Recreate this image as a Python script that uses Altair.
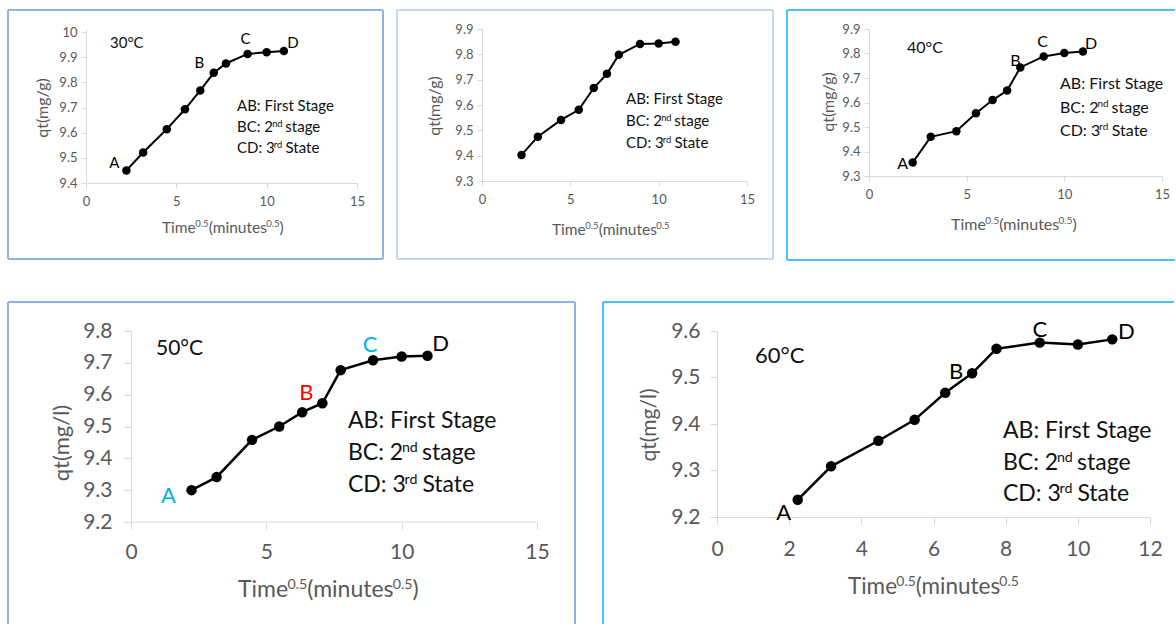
import altair as alt
import pandas as pd

# ---------------- data ----------------
sqrt_time = [2.236, 3.162, 4.472, 5.477, 6.325, 7.071, 7.746, 8.944, 10.0, 10.954]
qt_30c = [9.450, 9.521, 9.614, 9.693, 9.768, 9.838, 9.875, 9.913, 9.920, 9.925]
qt_panel2 = [9.403, 9.475, 9.541, 9.581, 9.667, 9.723, 9.798, 9.841, 9.843, 9.850]
qt_40c = [9.355, 9.460, 9.483, 9.556, 9.610, 9.649, 9.743, 9.788, 9.802, 9.808]
qt_50c = [9.300, 9.341, 9.458, 9.500, 9.545, 9.573, 9.677, 9.708, 9.720, 9.722]
qt_60c = [9.237, 9.309, 9.364, 9.409, 9.467, 9.509, 9.562, 9.575, 9.571, 9.582]

x_ticks_15 = [0, 5, 10, 15]
x_ticks_12 = [0, 2, 4, 6, 8, 10, 12]
y_ticks_30c = [9.4, 9.5, 9.6, 9.7, 9.8, 9.9, 10.0]
y_ticks_panel2 = [9.3, 9.4, 9.5, 9.6, 9.7, 9.8, 9.9]
y_ticks_40c = [9.3, 9.4, 9.5, 9.6, 9.7, 9.8, 9.9]
y_ticks_50c = [9.2, 9.3, 9.4, 9.5, 9.6, 9.7, 9.8]
y_ticks_60c = [9.2, 9.3, 9.4, 9.5, 9.6]

temp_labels = ["30°C", "", "40°C", "50°C", "60°C"]
stage_notes = [
    [("AB: First Stage", False)],
    [("BC: 2", False), ("nd", True), (" stage", False)],
    [("CD: 3", False), ("rd", True), (" State", False)],
]
x_title_closed = [("Time", False), ("0.5", True), ("(minutes", False), ("0.5", True), (")", False)]
x_title_open = [("Time", False), ("0.5", True), ("(minutes", False), ("0.5", True)]
y_title_g = "qt(mg/g)"
y_title_l = "qt(mg/l)"

# ---------------- styling ----------------
FONT = "Lato"
AXIS_COLOR = "#D9D9D9"
LABEL_COLOR = "#595959"
TEXT_COLOR = "#111111"

LATO_W = {' ': 0.193, '(': 0.30, ')': 0.30, '.': 0.23, ':': 0.24, '/': 0.37, '°': 0.40,
          'A': 0.68, 'B': 0.645, 'C': 0.685, 'D': 0.76, 'F': 0.557, 'S': 0.54, 'T': 0.583,
          'a': 0.50, 'd': 0.56, 'e': 0.51, 'g': 0.51, 'i': 0.235, 'm': 0.82, 'n': 0.545,
          'r': 0.38, 's': 0.41, 't': 0.35, 'u': 0.545, 'q': 0.56, 'l': 0.235}
for _d in "0123456789":
    LATO_W[_d] = 0.58


def text_width(s, size):
    return sum(LATO_W.get(c, 0.55) for c in s) * size


one = pd.DataFrame({"k": [0]})


def text_layer(txt, x, y, size, color, align="left", baseline="alphabetic", angle=None):
    kw = dict(text=txt, font=FONT, fontSize=size, color=color, align=align, baseline=baseline)
    if angle is not None:
        kw["angle"] = angle
    return alt.Chart(one).mark_text(**kw).encode(x=alt.value(x), y=alt.value(y))


def rich_text(segments, x0, y0, size, color):
    layers = []
    x = x0
    for seg, sup in segments:
        fs = size * 0.62 if sup else size
        yy = y0 - size * 0.36 if sup else y0
        stripped = seg.lstrip()
        x += text_width(seg[:len(seg) - len(stripped)], fs)
        layers.append(text_layer(stripped, x, yy, fs, color))
        x += text_width(stripped, fs)
    return layers


def hrule(x1, x2, y, color, w):
    return alt.Chart(one).mark_rule(color=color, strokeWidth=w).encode(
        x=alt.value(x1), x2=alt.value(x2), y=alt.value(y))


def vrule(x, y1, y2, color, w):
    return alt.Chart(one).mark_rule(color=color, strokeWidth=w).encode(
        x=alt.value(x), y=alt.value(y1), y2=alt.value(y2))


def panel(c):
    w, h = c["w"], c["h"]
    pre = c.get("pre", 0)          # extra empty room left of the y axis (layout alignment)
    x0, x1 = c["xdom"]
    xdom = [x0 - pre * (x1 - x0) / w, x1]
    xs = alt.Scale(domain=xdom, nice=False, zero=False)
    ys = alt.Scale(domain=c["ydom"], nice=False, zero=False)
    x_axis = alt.Axis(values=c["xticks"], format="d", grid=False, title=None, domain=(pre == 0),
                      domainColor=AXIS_COLOR, tickColor=AXIS_COLOR, tickSize=c["ts"],
                      labelColor=LABEL_COLOR, labelFont=FONT, labelFontSize=c["lfs"],
                      labelPadding=c["xlp"], labelOverlap=False, labelFlush=False)
    y_axis = alt.Axis(values=c["yticks"], format=".1~f", grid=False, title=None, offset=-pre,
                      domainColor=AXIS_COLOR, tickColor=AXIS_COLOR, tickSize=c["ts"],
                      labelColor=LABEL_COLOR, labelFont=FONT, labelFontSize=c["lfs"],
                      labelPadding=c["ylp"], labelOverlap=False, labelFlush=False)
    xe = alt.X("t:Q", scale=xs, axis=x_axis)
    ye = alt.Y("qt:Q", scale=ys, axis=y_axis)
    df = pd.DataFrame({"t": sqrt_time, "qt": c["vals"]})
    layers = []
    if pre:
        layers.append(hrule(pre, pre + w, h, AXIS_COLOR, 1))
    layers += [
        alt.Chart(df).mark_line(color="black", strokeWidth=c["lw"]).encode(x=xe, y=ye),
        alt.Chart(df).mark_circle(color="black", opacity=1, size=c["ms"]).encode(x=xe, y=ye),
    ]
    for letter, idx, dx, dy, col in c["letters"]:
        ldf = pd.DataFrame({"t": [sqrt_time[idx]], "qt": [c["vals"][idx]]})
        layers.append(alt.Chart(ldf).mark_text(
            text=letter, font=FONT, fontSize=c["lsize"], color=col, dx=dx, dy=dy,
            align="center", baseline="middle").encode(x=xe, y=ye))
    if c["temp"]:
        layers.append(text_layer(c["temp"], pre + c["temp_pos"][0], c["temp_pos"][1], c["temp_size"], TEXT_COLOR))
    nx = pre + c["note_x"]
    for segs, by in zip(stage_notes, c["note_y"]):
        layers += rich_text(segs, nx, by, c["note_size"], TEXT_COLOR)
    layers += rich_text(c["xtitle"], pre + c["xt_pos"][0], c["xt_pos"][1], c["xt_size"], LABEL_COLOR)
    layers.append(text_layer(c["ytitle"], pre + c["yt_pos"][0], c["yt_pos"][1], c["yt_size"], LABEL_COLOR,
                             align="center", baseline="middle", angle=270))
    L, R, T, B = c["box"]
    L, R = L + pre, R + pre
    col, sw = c["box_color"], c["box_w"]
    layers.append(hrule(L, R, T, col, sw))
    layers.append(vrule(L, T, B, col, sw))
    if not c["open_bottom"]:
        layers.append(hrule(L, R, B, col, sw))
    if not c["open_right"]:
        layers.append(vrule(R, T, B, col, sw))
    return alt.layer(*layers).properties(width=w + pre, height=h)


BLK = "black"
panels_cfg = [
    dict(vals=qt_30c, w=271, h=154, xdom=[0, 15], xticks=x_ticks_15, ydom=[9.4, 10.012], yticks=y_ticks_30c,
         ts=5, lfs=13, xlp=7, ylp=4, lw=2, ms=72,
         letters=[("A", 0, -12, -7, BLK), ("B", 4, -1, -27, BLK), ("C", 7, -2, -15, BLK), ("D", 9, 9, -8, BLK)],
         lsize=15, temp=temp_labels[0], temp_pos=(24, 19), temp_size=15,
         note_x=151, note_y=[82, 103, 124], note_size=15,
         xtitle=x_title_closed, xt_pos=(76, 204), xt_size=15.5,
         ytitle=y_title_g, yt_pos=(-43, 79), yt_size=16,
         box=(-78, 297, -19, 230), box_color="#8FB4E3", box_w=2, open_right=False, open_bottom=False),
    dict(vals=qt_panel2, w=265, h=152, xdom=[0, 15], xticks=x_ticks_15, ydom=[9.3, 9.9], yticks=y_ticks_panel2,
         ts=5, lfs=13, xlp=7, ylp=4, lw=2, ms=72,
         letters=[], lsize=15, temp=temp_labels[1], temp_pos=(0, 0), temp_size=15,
         note_x=144, note_y=[75, 97, 119], note_size=15,
         xtitle=x_title_open, xt_pos=(70, 206), xt_size=15.5,
         ytitle=y_title_g, yt_pos=(-47, 77), yt_size=16,
         box=(-85, 291, -19, 230), box_color="#B0CBEA", box_w=1.5, open_right=False, open_bottom=False),
    dict(vals=qt_40c, w=293, h=147, xdom=[0, 15], xticks=x_ticks_15, ydom=[9.3, 9.9], yticks=y_ticks_40c,
         ts=5, lfs=13, xlp=7, ylp=4, lw=2, ms=72,
         letters=[("A", 0, -10, 1.5, BLK), ("B", 6, -5, -6, BLK), ("C", 7, -1, -14, BLK), ("D", 9, 8, -8, BLK)],
         lsize=16, temp=temp_labels[2], temp_pos=(38, 24), temp_size=16,
         note_x=191, note_y=[60, 84, 107], note_size=16,
         xtitle=x_title_closed, xt_pos=(82, 201), xt_size=16,
         ytitle=y_title_g, yt_pos=(-40, 73), yt_size=16,
         box=(-82, 306, -19, 231), box_color="#4DC3F2", box_w=2, open_right=True, open_bottom=False),
    dict(vals=qt_50c, w=406, h=191, pre=45, xdom=[0, 15], xticks=x_ticks_15, ydom=[9.2, 9.8], yticks=y_ticks_50c,
         ts=7, lfs=21, xlp=12, ylp=12, lw=2.5, ms=110,
         letters=[("A", 0, -23, 6, "#00B0F0"), ("B", 5, -16, -10, "#FF0000"),
                  ("C", 7, -3, -15, "#00B0F0"), ("D", 9, 13, -12, BLK)],
         lsize=22, temp=temp_labels[3], temp_pos=(25, 24), temp_size=21,
         note_x=217, note_y=[97, 129, 161], note_size=23,
         xtitle=x_title_closed, xt_pos=(107, 266), xt_size=23,
         ytitle=y_title_l, yt_pos=(-69, 112), yt_size=22,
         box=(-123, 444, -29, 293), box_color="#8DB3E2", box_w=2, open_right=False, open_bottom=True),
    dict(vals=qt_60c, w=433, h=186, xdom=[0, 12], xticks=x_ticks_12, ydom=[9.2, 9.6], yticks=y_ticks_60c,
         ts=7, lfs=21, xlp=14, ylp=10, lw=2.5, ms=110,
         letters=[("A", 0, -14, 13, BLK), ("B", 5, -16, -1, BLK), ("C", 7, 0, -13, BLK), ("D", 9, 14, -7, BLK)],
         lsize=22, temp=temp_labels[4], temp_pos=(38, 32), temp_size=22,
         note_x=286, note_y=[107, 139, 170], note_size=23,
         xtitle=x_title_open, xt_pos=(131, 263), xt_size=22.5,
         ytitle=y_title_l, yt_pos=(-67, 94), yt_size=21,
         box=(-114, 457, -29, 293), box_color="#4DC3F2", box_w=2, open_right=True, open_bottom=True),
]

p = [panel(c) for c in panels_cfg]
top_row = alt.concat(p[0], p[1], p[2], columns=3, align="none", spacing=12)
bottom_row = alt.concat(p[3], p[4], columns=2, align="none", spacing=26)
chart = alt.concat(top_row, bottom_row, columns=1, align="none", spacing=40).properties(
    padding={"left": 7, "top": 9, "right": 0, "bottom": 0}
).configure_view(stroke=None)

chart.save("out.html", embed_options={"renderer": "svg", "actions": False})
